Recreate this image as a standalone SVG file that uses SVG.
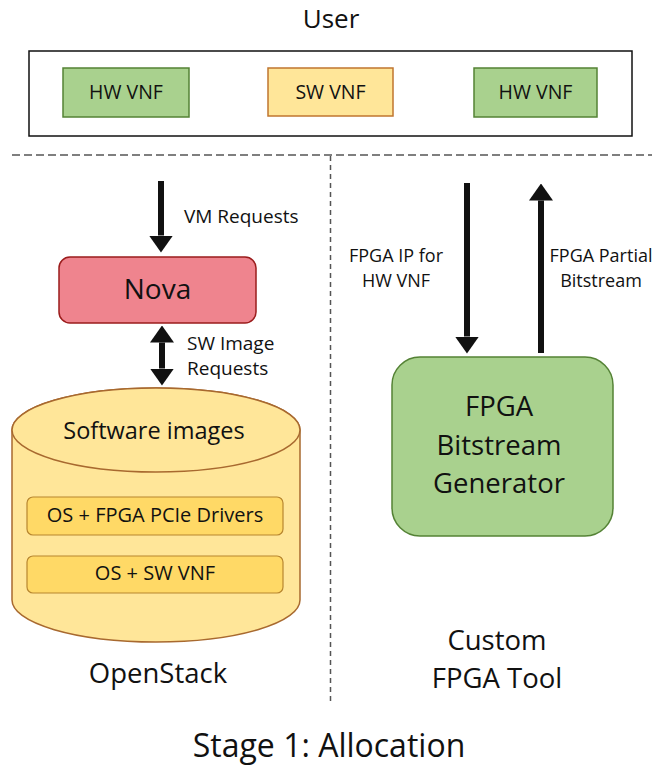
<svg xmlns="http://www.w3.org/2000/svg" width="659" height="765" viewBox="0 0 659 765">
<style>
text{font-family:"Open Sans","Noto Sans","Liberation Sans",sans-serif;fill:#111;text-anchor:middle}
.lbl{text-anchor:start}
.green{fill:#a9d18e;stroke:#548235;stroke-width:1.5}
.yellow{fill:#ffe699;stroke:#c0762f;stroke-width:1.5}
.inner{fill:#ffd966;stroke:#b8862f;stroke-width:1.2}
.arrow{stroke:#111;stroke-width:6;fill:none}
.sep{stroke:#555;stroke-width:1.5;fill:none}
</style>
<defs>
<marker id="ah" markerUnits="userSpaceOnUse" markerWidth="17" markerHeight="24" refX="0" refY="12" orient="auto-start-reverse" viewBox="0 0 17 24">
<path d="M0,0 L17,12 L0,24 Z" fill="#111"/>
</marker>
</defs>

<text x="331" y="28" font-size="26">User</text>

<g id="user-box">
<rect x="29" y="51" width="603" height="85" fill="#fff" stroke="#111" stroke-width="1.5"/>
</g>
<g id="hw-vnf-1">
<rect class="green" x="63" y="68" width="126" height="49"/>
<text x="126" y="99" font-size="19.5">HW VNF</text>
</g>
<g id="sw-vnf">
<rect class="yellow" x="268" y="68" width="125" height="48"/>
<text x="330.5" y="99" font-size="19.5">SW VNF</text>
</g>
<g id="hw-vnf-2">
<rect class="green" x="474" y="68" width="123" height="49"/>
<text x="535.5" y="99" font-size="19.5">HW VNF</text>
</g>

<g id="separators">
<line class="sep" x1="12" y1="155" x2="652" y2="155" stroke-dasharray="8,4"/>
<line class="sep" x1="330.5" y1="156" x2="330.5" y2="705" stroke-dasharray="5,4"/>
</g>

<g id="nova">
<rect x="59" y="257" width="197" height="66" rx="11" fill="#ef848e" stroke="#9b1c1c" stroke-width="1.5"/>
<text x="157.5" y="299" font-size="28">Nova</text>
</g>

<g id="openstack-db">
<path d="M12,430 V600 A144,42 0 0 0 300,600 V430 A144,42 0 0 0 12,430 Z" fill="#ffe699" stroke="#a8692f" stroke-width="1.5"/>
<ellipse cx="156" cy="430" rx="144" ry="42" fill="#ffe699" stroke="#a8692f" stroke-width="1.5"/>
<text x="154" y="439" font-size="23.5">Software images</text>
<rect class="inner" x="27" y="497" width="256" height="38" rx="6"/>
<text x="155" y="522" font-size="20">OS + FPGA PCIe Drivers</text>
<rect class="inner" x="27" y="556" width="256" height="37" rx="6"/>
<text x="155" y="580" font-size="20">OS + SW VNF</text>
</g>
<text x="158" y="683" font-size="27.5">OpenStack</text>

<g id="fpga-generator">
<rect class="green" x="392" y="357" width="221" height="179" rx="28"/>
<text x="499" y="416" font-size="27.5">FPGA</text>
<text x="499" y="455" font-size="27.5">Bitstream</text>
<text x="499" y="493" font-size="27.5">Generator</text>
</g>
<text x="497" y="650" font-size="27.5">Custom</text>
<text x="497" y="688" font-size="27.5">FPGA Tool</text>

<g id="connectors">
<line class="arrow" x1="161" y1="181" x2="161" y2="235.5" marker-end="url(#ah)"/>
<line class="arrow" x1="162" y1="342.5" x2="162" y2="368.5" marker-start="url(#ah)" marker-end="url(#ah)"/>
<line class="arrow" x1="467" y1="183" x2="467" y2="336.5" marker-end="url(#ah)"/>
<line class="arrow" x1="541" y1="353" x2="541" y2="200.5" marker-end="url(#ah)"/>
</g>

<text class="lbl" x="184" y="223" font-size="19">VM Requests</text>
<text class="lbl" x="187" y="350" font-size="19">SW Image</text>
<text class="lbl" x="187" y="375" font-size="19">Requests</text>
<text x="396" y="262" font-size="18">FPGA IP for</text>
<text x="396" y="287" font-size="18">HW VNF</text>
<text x="601" y="262" font-size="18">FPGA Partial</text>
<text x="601" y="287" font-size="18">Bitstream</text>

<text x="329" y="757" font-size="32">Stage 1: Allocation</text>
</svg>
